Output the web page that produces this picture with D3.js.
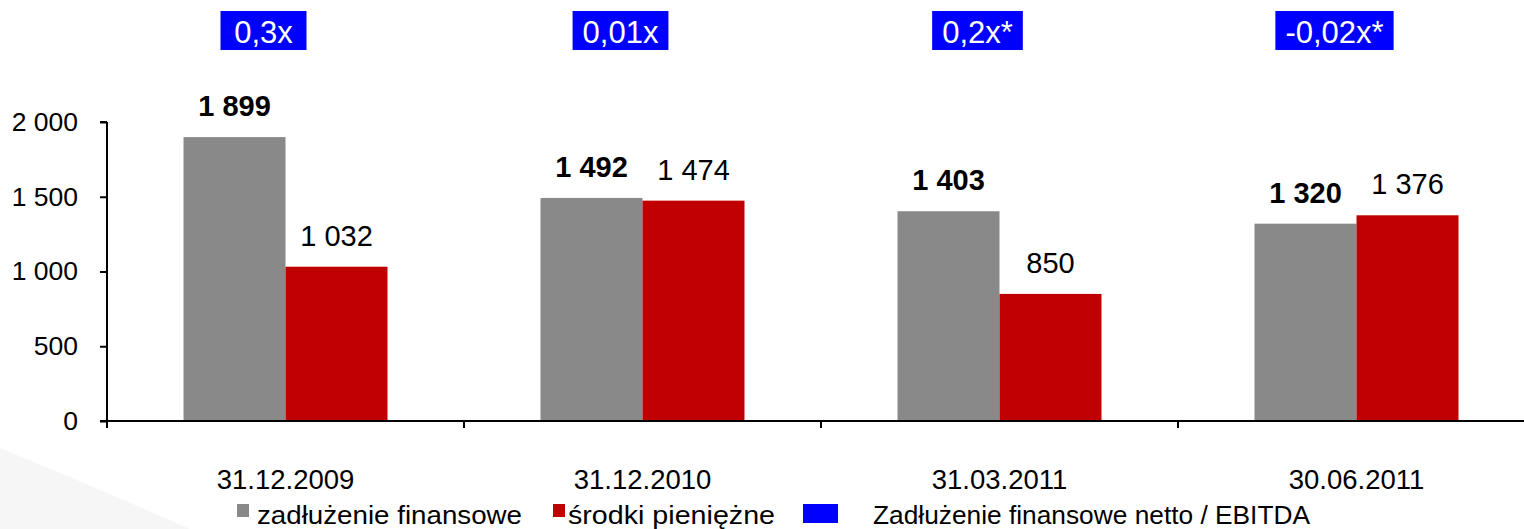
<!DOCTYPE html>
<html>
<head>
<meta charset="utf-8">
<script src="https://cdn.jsdelivr.net/npm/d3@7"></script>
<style>
    body { margin: 0; background: #fff; }
    svg text { font-family: "Liberation Sans", Arial, sans-serif; }
</style>
</head>
<body>
<svg id="chart" width="1524" height="529"></svg>
<script>
// chart data
const categories = ["31.12.2009", "31.12.2010", "31.03.2011", "30.06.2011"];
const debt = [1899, 1492, 1403, 1320];
const cash = [1032, 1474, 850, 1376];
const ratios = ["0,3x", "0,01x", "0,2x*", "-0,02x*"];
const yTicks = [0, 500, 1000, 1500, 2000];
const seriesNames = ["zadłużenie finansowe", "środki pieniężne"];
const ratioName = "Zadłużenie finansowe netto / EBITDA";

const colors = { debt: "#898989", cash: "#c00000", ratio: "#0000ff" };

const svg = d3.select("#chart");

// faint background swoosh, bottom left
svg.append("path")
    .attr("d", "M0,448 Q90,485 190,529 L0,529 Z")
    .attr("fill", "#f6f6f6");

const x = d3.scaleBand().domain(categories).range([107, 1535]);
const xInner = d3.scaleBand().domain(["debt", "cash"])
    .range([(x.bandwidth() - 204) / 2, (x.bandwidth() + 204) / 2]);
const y = d3.scaleLinear().domain([0, 2000]).range([421, 122]);

const fmt = v => d3.format(",")(v).replace(/,/g, "\u00a0");

const rows = categories.map((c, i) => ({ cat: c, debt: debt[i], cash: cash[i], ratio: ratios[i] }));

// bars
const groups = svg.append("g").selectAll("g")
    .data(rows)
    .join("g")
    .attr("transform", d => `translate(${x(d.cat)},0)`);

["debt", "cash"].forEach(key => {
    groups.append("rect")
        .attr("x", xInner(key))
        .attr("width", xInner.bandwidth())
        .attr("y", d => y(d[key]))
        .attr("height", d => y(0) - y(d[key]))
        .attr("fill", colors[key]);

    groups.append("text")
        .attr("x", xInner(key) + xInner.bandwidth() / 2)
        .attr("y", d => y(d[key]) - 21)
        .attr("text-anchor", "middle")
        .attr("font-size", 29)
        .attr("font-weight", key === "debt" ? "bold" : "normal")
        .text(d => fmt(d[key]));
});

// axes
const yAxis = svg.append("g")
    .attr("transform", "translate(107,0)")
    .call(d3.axisLeft(y).tickValues(yTicks).tickSize(7).tickPadding(22).tickFormat(fmt));
yAxis.selectAll("text").attr("font-size", 26.5).attr("fill", "#000");
yAxis.selectAll("path, line").attr("stroke", "#000").attr("stroke-width", 2);
yAxis.select(".domain").attr("d", `M0,${y(0)}V${y(2000)}M-7,${y(2000)}H0`);

const xAxis = svg.append("g")
    .attr("transform", `translate(0,${y(0)})`)
    .call(d3.axisBottom(x).tickSize(0).tickPadding(48));
xAxis.select(".domain").attr("d", "M100,0H1535").attr("stroke", "#000").attr("stroke-width", 2);
xAxis.selectAll("text").attr("font-size", 27.5).attr("fill", "#000");
svg.append("g").selectAll("line")
    .data(categories)
    .join("line")
    .attr("x1", d => x(d)).attr("x2", d => x(d))
    .attr("y1", y(0)).attr("y2", y(0) + 7)
    .attr("stroke", "#000").attr("stroke-width", 2);

// ratio boxes
const boxes = svg.append("g").selectAll("g")
    .data(rows)
    .join("g")
    .attr("transform", d => `translate(${x(d.cat) + x.bandwidth() / 2 - 22},0)`);
const boxRects = boxes.append("rect").attr("y", 11).attr("height", 39).attr("fill", colors.ratio);
const boxTexts = boxes.append("text")
    .attr("y", 43)
    .attr("text-anchor", "middle")
    .attr("font-size", 31)
    .attr("fill", "#fff")
    .text(d => d.ratio);
boxTexts.each(function (d, i) {
    const w = Math.max(86, this.getComputedTextLength() + 20);
    d3.select(boxRects.nodes()[i]).attr("x", -w / 2).attr("width", w);
});

// legend
const legend = svg.append("g");
const legendItems = [
    { name: seriesNames[0], color: colors.debt, sx: 237, sw: 12, sh: 13, tx: 257, tw: 265 },
    { name: seriesNames[1], color: colors.cash, sx: 553, sw: 12, sh: 13, tx: 568, tw: 207 },
    { name: ratioName, color: colors.ratio, sx: 803, sw: 35, sh: 19, tx: 873, tw: 437 }
];
legendItems.forEach(item => {
    legend.append("rect")
        .attr("x", item.sx).attr("y", 504)
        .attr("width", item.sw).attr("height", item.sh)
        .attr("fill", item.color);
    legend.append("text")
        .attr("x", item.tx).attr("y", 524)
        .attr("font-size", 25)
        .attr("textLength", item.tw)
        .attr("lengthAdjust", "spacingAndGlyphs")
        .text(item.name);
});
</script>
</body>
</html>
